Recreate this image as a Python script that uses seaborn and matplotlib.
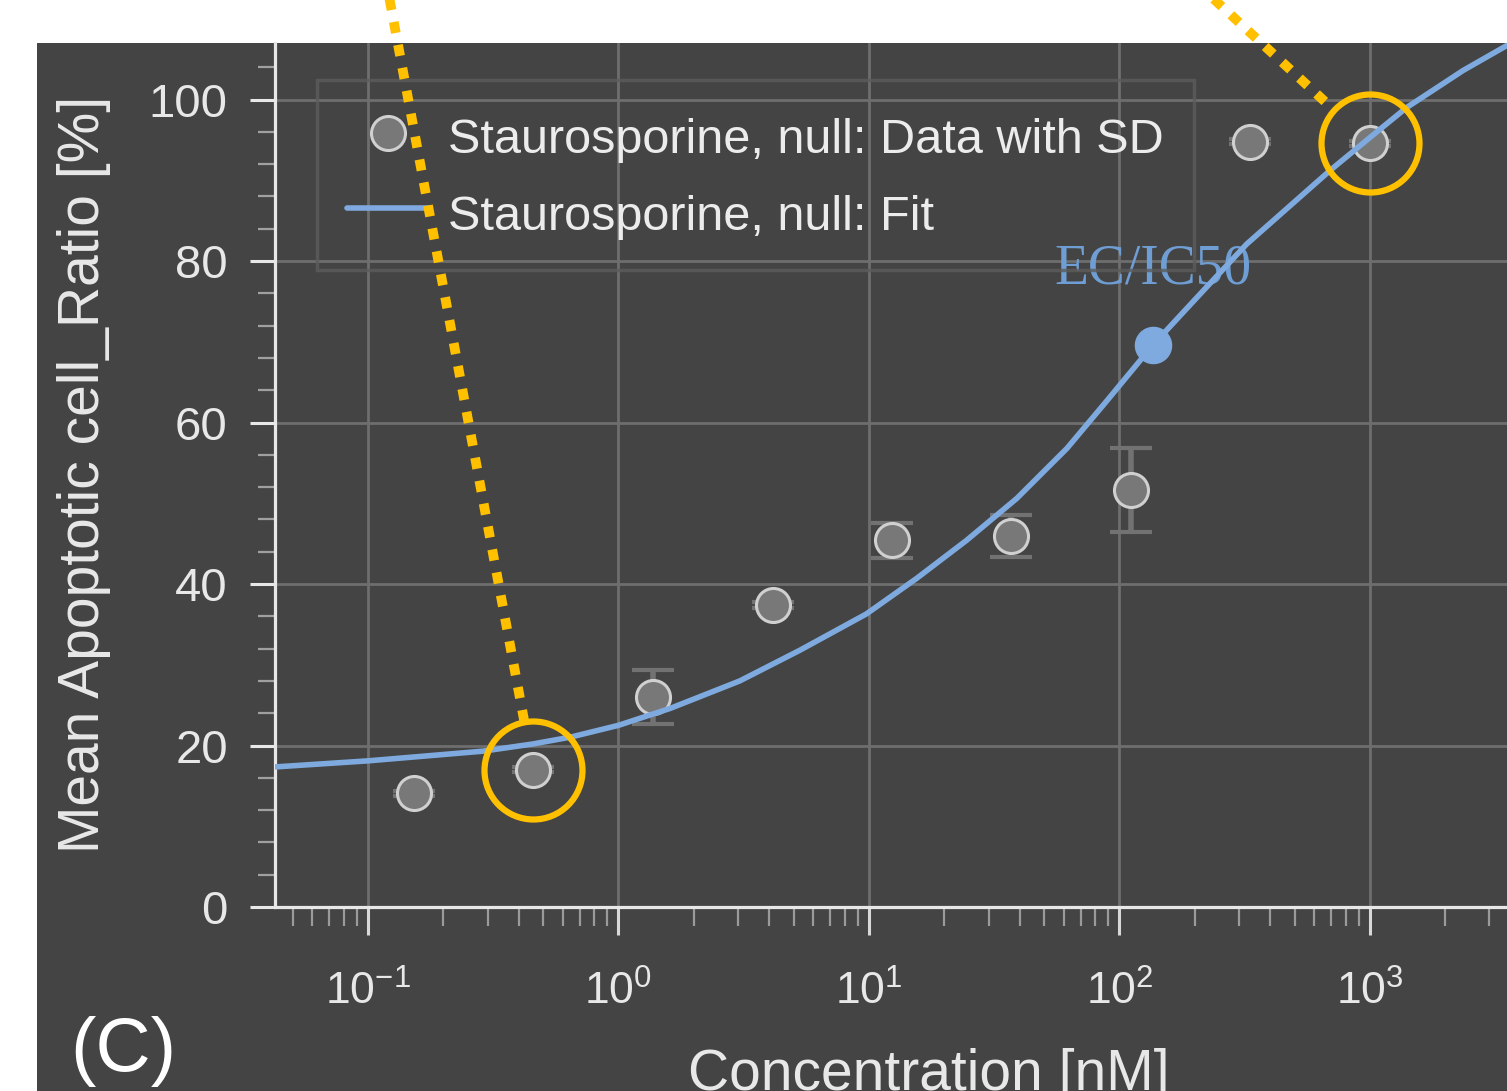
import numpy as np
import pandas as pd
import matplotlib
matplotlib.use("Agg")
import matplotlib.pyplot as plt
import matplotlib.ticker as mticker
from matplotlib.patches import Rectangle
from matplotlib.lines import Line2D
import seaborn as sns

# measured points (3-fold dilution series), mean and SD in %
conc = [0.152, 0.457, 1.37, 4.12, 12.3, 37.0, 111.0, 333.0, 1000.0]
mean_ratio = [14.1, 17.0, 26.0, 37.4, 45.4, 46.0, 51.6, 94.8, 94.6]
sd_ratio = [0.3, 0.3, 3.3, 0.4, 2.2, 2.6, 5.2, 0.3, 0.3]

# fitted curve
fit_conc = [0.0427, 0.1, 0.288, 0.457, 0.646, 1.0, 1.61, 3.05, 5.30, 9.77, 15.5, 24.5,
            38.9, 61.7, 89.1, 136.0, 204.0, 322.0, 692.0, 1000.0, 1400.0, 2355.0, 3524.0]
fit_ratio = [17.35, 18.1, 19.3, 20.2, 21.05, 22.5, 24.6, 28.0, 31.8, 36.3, 40.7, 45.4,
             50.6, 56.8, 62.7, 69.6, 75.5, 82.1, 91.2, 95.3, 99.0, 103.6, 106.7]

ec50_conc = 136.0
ec50_ratio = 69.6

highlight_idx = [1, 8]

data_label = "Staurosporine, null: Data with SD"
fit_label = "Staurosporine, null: Fit"

bg = "#444444"
blue = "#7eaadf"
yellow = "#ffc000"
txt = "#e8e8e8"

sns.set_theme(style="dark")
plt.rcParams["font.family"] = ["Liberation Sans", "DejaVu Sans"]

df = pd.DataFrame({"conc": conc, "mean": mean_ratio, "sd": sd_ratio})
fit_df = pd.DataFrame({"conc": fit_conc, "ratio": fit_ratio})

fig = plt.figure(figsize=(15.07, 10.91), dpi=100, facecolor="white")
fig.patches.append(Rectangle((37 / 1507, 0), 1, 1 - 43 / 1091, transform=fig.transFigure,
                             facecolor=bg, edgecolor="none", zorder=-10))
ax = fig.add_axes([275 / 1507, 1 - 907 / 1091, 1 - 275 / 1507, (907 - 43) / 1091])
ax.set_facecolor(bg)
ax.set_xscale("log")
ax.set_xlim(0.04253, 3524)
ax.set_ylim(0, 107)

ax.errorbar(df["conc"], df["mean"], yerr=df["sd"], fmt="none", ecolor="#727272",
            elinewidth=4, capsize=15, capthick=3, zorder=2)
sns.scatterplot(data=df, x="conc", y="mean", s=600, color="#787878", edgecolor="#d0d0d0",
                linewidth=2.2, ax=ax, zorder=3, label=data_label)
sns.lineplot(data=fit_df, x="conc", y="ratio", color=blue, linewidth=4, ax=ax, zorder=4,
             label=fit_label)
ax.plot([ec50_conc], [ec50_ratio], marker="o", ms=26, color=blue, zorder=5)
ax.annotate("EC/IC50", xy=(ec50_conc, ec50_ratio), xytext=(0, 54), textcoords="offset points",
            ha="center", va="center", fontsize=40, color="#6f9ed4",
            family=["Liberation Serif", "DejaVu Serif"])

# yellow highlight circles + dotted leader lines coming from above the figure
starts = [(388, 1100), (1205, 1100)]
ring_r = 49
for i, (sx, sy) in zip(highlight_idx, starts):
    ax.plot([conc[i]], [mean_ratio[i]], marker="o", ms=2 * ring_r / 1.389, mfc="none",
            mec=yellow, mew=4.5, zorder=8, clip_on=False)
    cx, cy = ax.transData.transform((conc[i], mean_ratio[i]))
    d = np.hypot(sx - cx, sy - cy)
    ex, ey = cx + (sx - cx) * ring_r / d, cy + (sy - cy) * ring_r / d
    fig.add_artist(Line2D([sx, ex], [sy, ey], transform=None, color=yellow, lw=7,
                          dashes=(1.15, 1.25), dash_capstyle="butt", zorder=10))

ax.yaxis.set_major_locator(mticker.MultipleLocator(20))
ax.yaxis.set_minor_locator(mticker.MultipleLocator(4))
ax.xaxis.set_major_locator(mticker.LogLocator(base=10))
ax.xaxis.set_minor_locator(mticker.LogLocator(base=10, subs=np.arange(2, 10)))

ax.grid(True, which="major", color="#6e6e6e", lw=2)
ax.grid(False, which="minor")
ax.set_axisbelow(True)

for s in ["top", "right"]:
    ax.spines[s].set_visible(False)
for s in ["left", "bottom"]:
    ax.spines[s].set_color("#e8e8e8")
    ax.spines[s].set_linewidth(2.3)

ax.tick_params(axis="y", which="major", left=True, direction="out", length=18, width=2.2,
               color="#e8e8e8", labelcolor=txt, labelsize=34, pad=16)
ax.tick_params(axis="y", which="minor", left=True, direction="out", length=12, width=1.6,
               color="#a0a0a0")
ax.tick_params(axis="x", which="major", bottom=True, direction="out", length=20, width=2.2,
               color="#d8d8d8", labelcolor=txt, labelsize=32, pad=26)
ax.tick_params(axis="x", which="minor", bottom=True, direction="out", length=14, width=1.6,
               color="#9a9a9a")

ax.set_ylabel("Mean Apoptotic cell_Ratio [%]", fontsize=41, color=txt)
ax.yaxis.set_label_coords(-0.133, 0.501)
ax.set_xlabel("Concentration [nM]", fontsize=41, color=txt)
ax.xaxis.set_label_coords(0.531, -0.163)

leg = ax.legend(loc="upper left", bbox_to_anchor=(0.034, 0.957), fontsize=35, frameon=True,
                fancybox=False, edgecolor="#5c5c5c", labelcolor="#ececec", handlelength=1.7,
                handleheight=1.3, handletextpad=0.38, borderpad=0.62, labelspacing=0.49,
                borderaxespad=0)
leg.get_frame().set_facecolor("none")
leg.get_frame().set_linewidth(2.5)

fig.text(70 / 1507, 0.004, "(C)", fontsize=55, color="white", va="bottom", ha="left")

fig.savefig("out.png", dpi=100, facecolor="white")
